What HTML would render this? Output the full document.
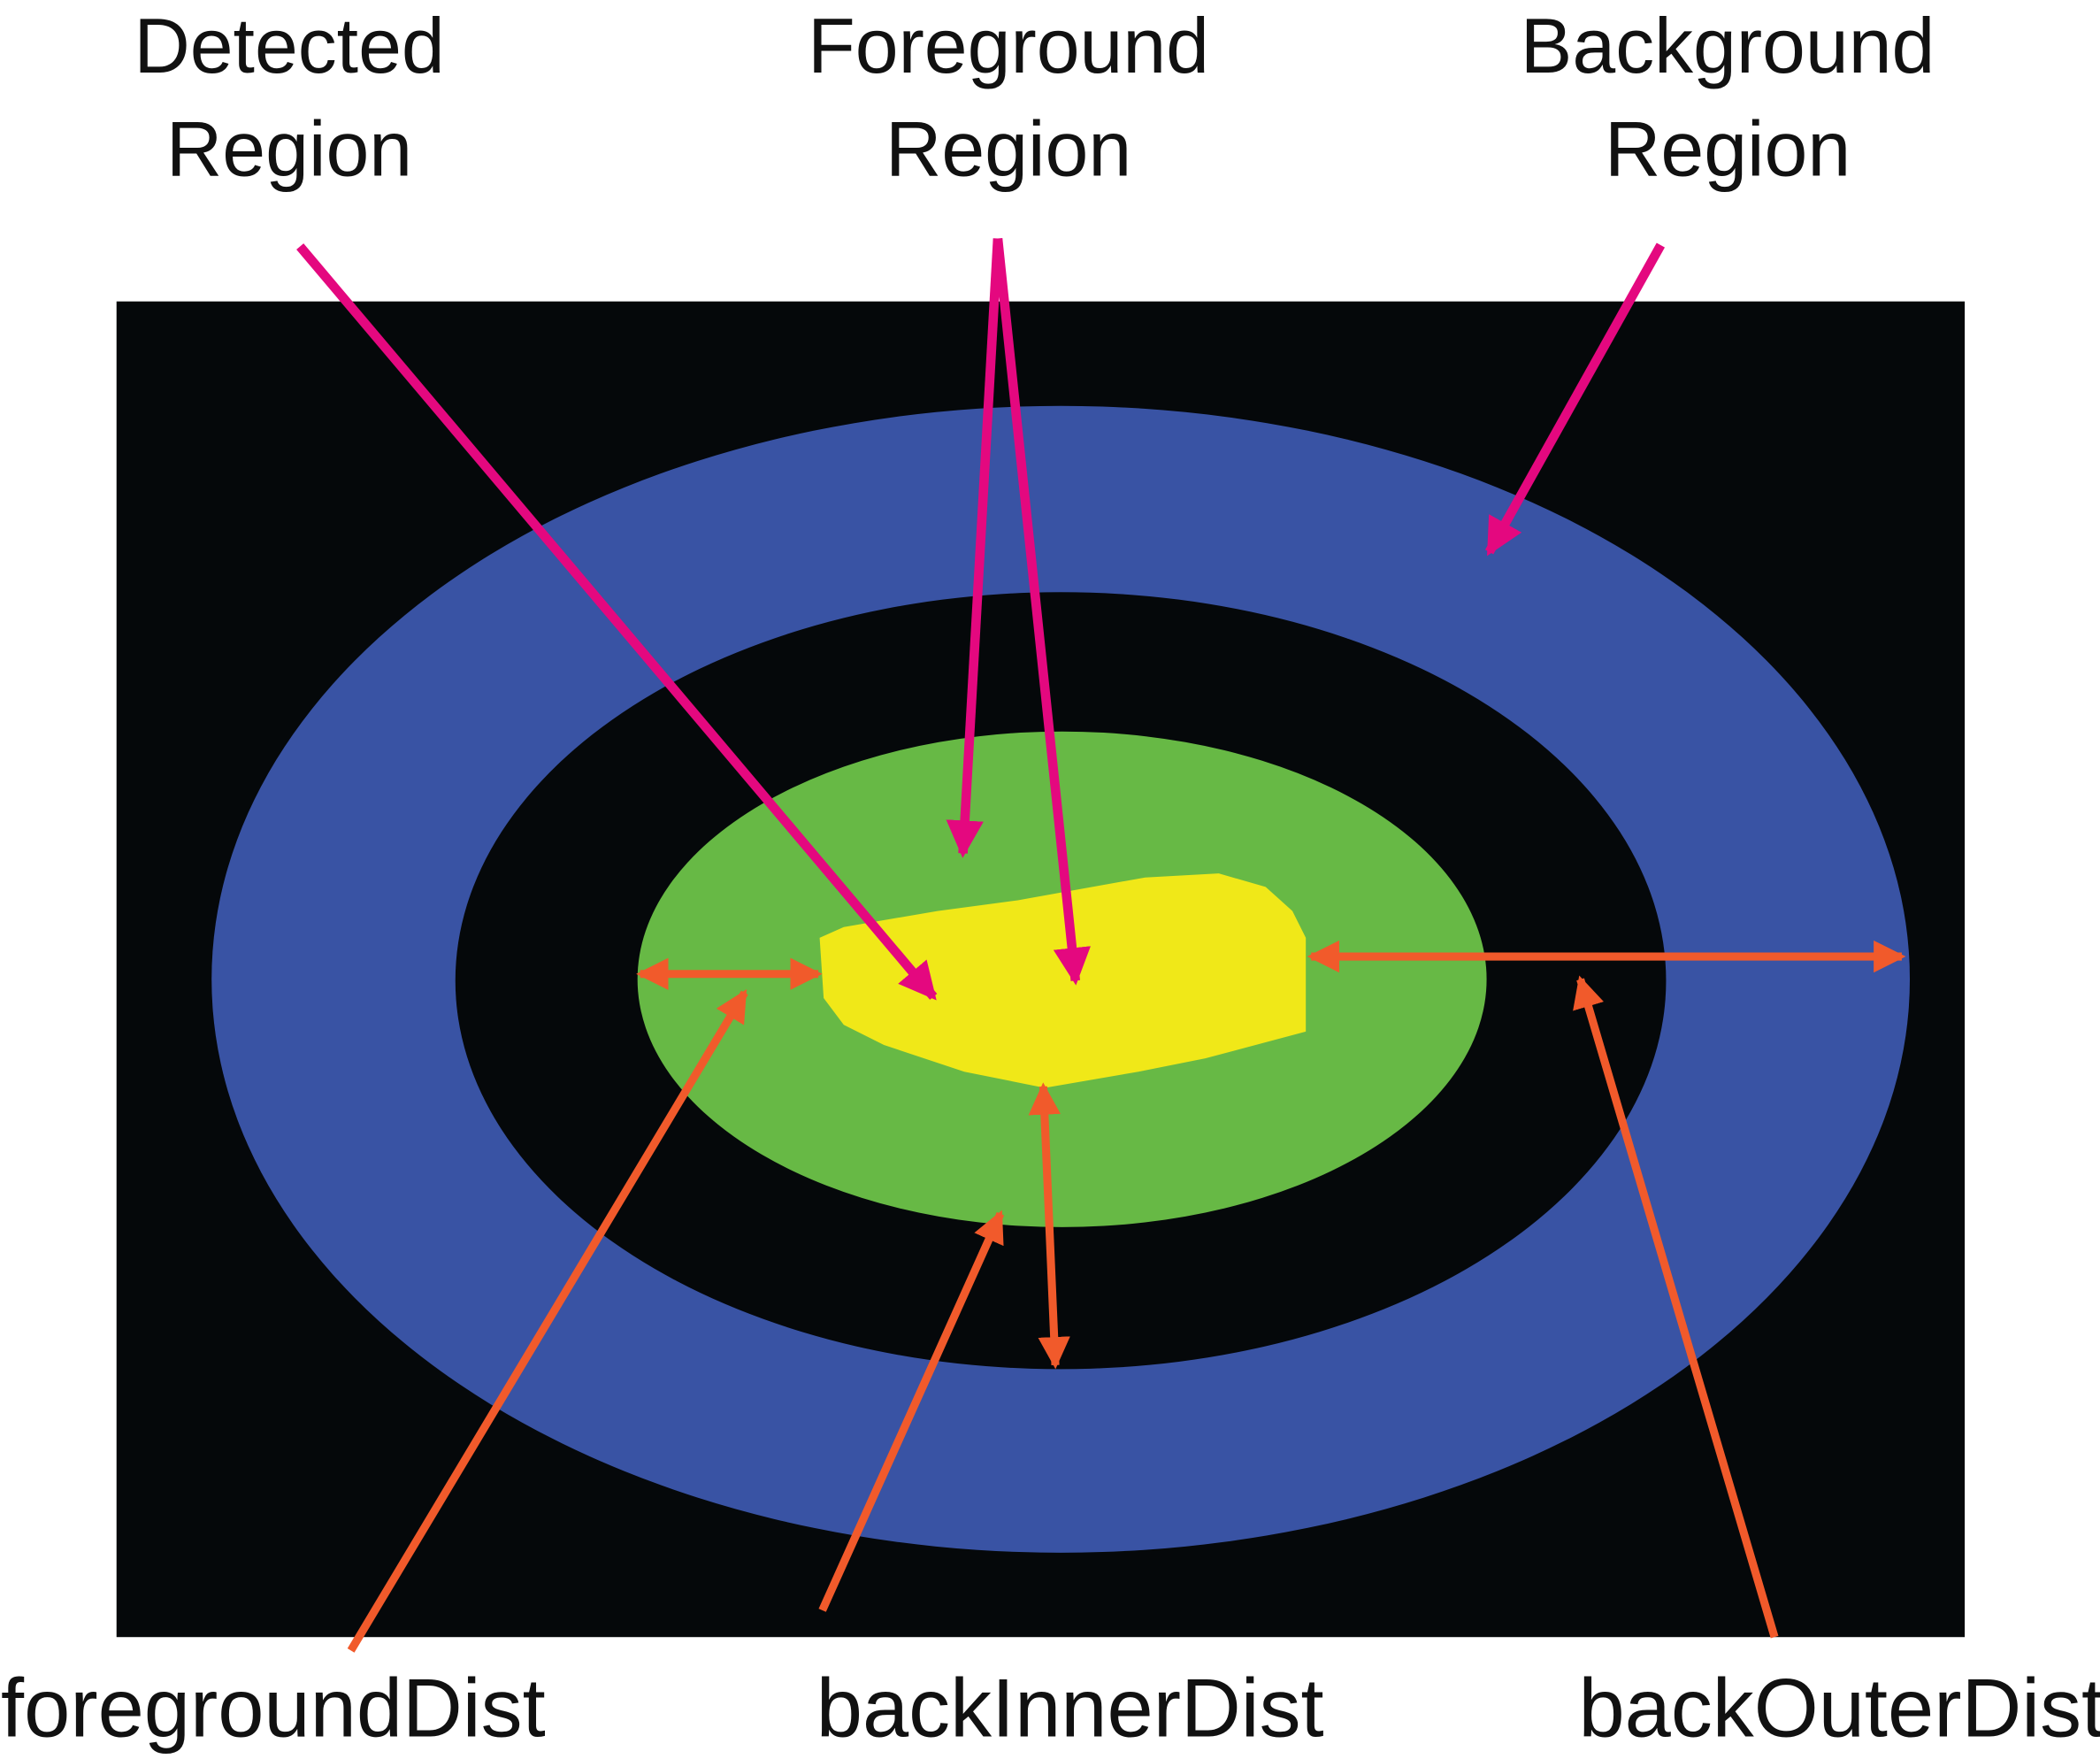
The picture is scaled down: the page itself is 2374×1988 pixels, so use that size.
<!DOCTYPE html>
<html><head><meta charset="utf-8"><style>
html,body{margin:0;padding:0;background:#fff;}
svg{display:block;}
text{font-family:"Liberation Sans",sans-serif;font-size:58px;fill:#111;}
text.bottom{font-size:62px;}
</style></head><body>
<svg width="2374" height="1988" viewBox="0 0 1568 1313" preserveAspectRatio="none" xmlns="http://www.w3.org/2000/svg">
<defs>
<marker id="mp" markerWidth="4" markerHeight="4" refX="3.5" refY="2" orient="auto" markerUnits="strokeWidth"><path d="M0,0 L4,2 L0,4 z" fill="#e4087f"/></marker>
<marker id="mo" markerWidth="4" markerHeight="4" refX="3.5" refY="2" orient="auto" markerUnits="strokeWidth"><path d="M0,0 L4,2 L0,4 z" fill="#f15a2b"/></marker>
<marker id="mos" markerWidth="4" markerHeight="4" refX="0.5" refY="2" orient="auto" markerUnits="strokeWidth"><path d="M4,0 L0,2 L4,4 z" fill="#f15a2b"/></marker>
</defs>
<rect x="87" y="225" width="1380" height="997" fill="#05080a"/>
<ellipse cx="792" cy="731" rx="634" ry="428" fill="#3953a4"/>
<ellipse cx="792" cy="732" rx="452" ry="290" fill="#05080a"/>
<ellipse cx="793" cy="731" rx="317" ry="185" fill="#67b945"/>
<polygon points="612,700 630,692 700,680 760,672 855,655 910,652 945,662 965,680 975,700 975,770 900,790 850,800 780,812 720,800 660,780 630,765 615,745" fill="#f0e818"/>

<g stroke="#e4087f" stroke-width="7" fill="none">
<line x1="224" y1="184" x2="697" y2="744" marker-end="url(#mp)"/>
<line x1="745" y1="178" x2="719" y2="637" marker-end="url(#mp)"/>
<line x1="745" y1="178" x2="803" y2="732" marker-end="url(#mp)"/>
<line x1="1240" y1="183" x2="1112" y2="412" marker-end="url(#mp)"/>
</g>
<g stroke="#f15a2b" stroke-width="6" fill="none">
<line x1="478" y1="727" x2="611" y2="727" marker-start="url(#mos)" marker-end="url(#mo)"/>
<line x1="979" y1="714" x2="1420" y2="714" marker-start="url(#mos)" marker-end="url(#mo)"/>
<line x1="779" y1="811" x2="788" y2="1019" marker-start="url(#mos)" marker-end="url(#mo)"/>
<line x1="262" y1="1232" x2="556" y2="741" marker-end="url(#mo)"/>
<line x1="614" y1="1202" x2="747" y2="906" marker-end="url(#mo)"/>
<line x1="1325" y1="1222" x2="1180" y2="731" marker-end="url(#mo)"/>
</g>

<text text-anchor="middle"><tspan x="216" y="54">Detected</tspan><tspan x="216" y="131">Region</tspan></text>
<text text-anchor="middle"><tspan x="753" y="54">Foreground</tspan><tspan x="753" y="131">Region</tspan></text>
<text text-anchor="middle"><tspan x="1290" y="54">Background</tspan><tspan x="1290" y="131">Region</tspan></text>
<text class="bottom" x="204" y="1296" text-anchor="middle">foregroundDist</text>
<text class="bottom" x="799" y="1296" text-anchor="middle">backInnerDist</text>
<text class="bottom" x="1375" y="1296" text-anchor="middle">backOuterDist</text>
</svg>
</body></html>
